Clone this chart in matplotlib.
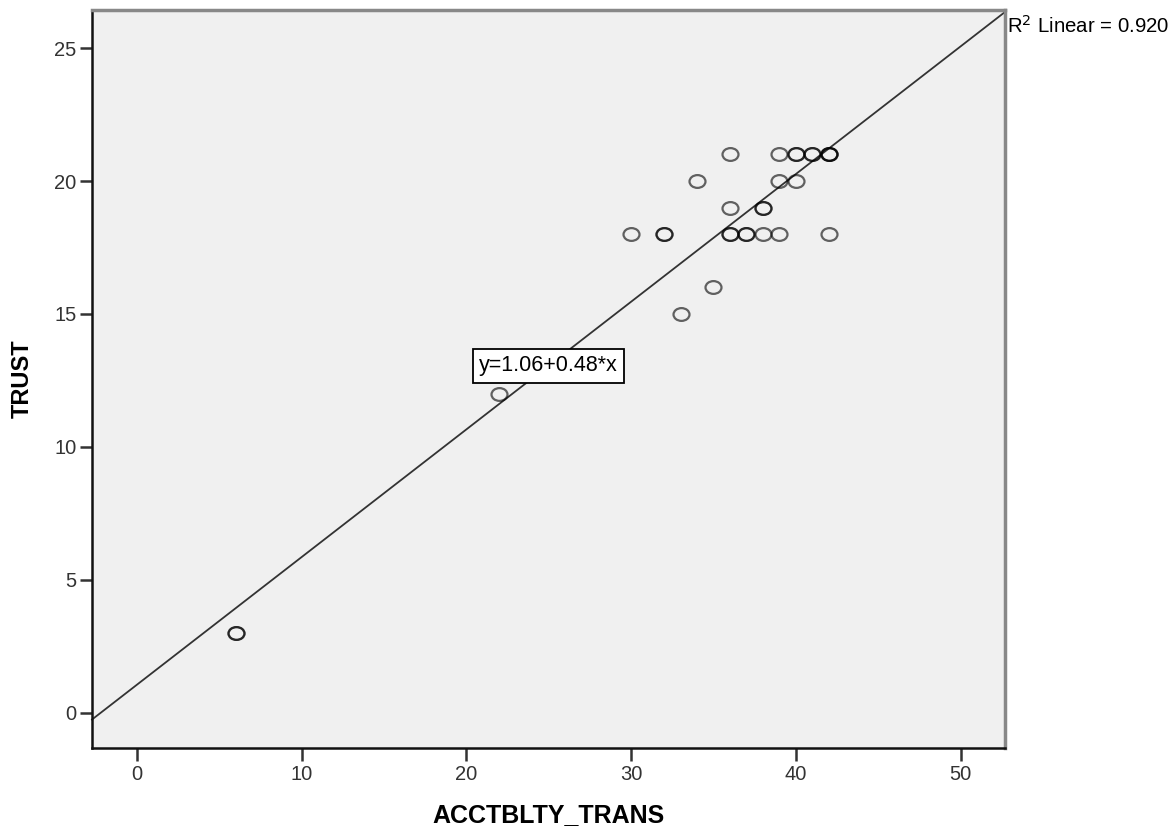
import numpy as np
import matplotlib.pyplot as plt
from matplotlib.path import Path

plt.rcParams['font.family'] = ['Liberation Sans', 'DejaVu Sans']

acct = [6, 6, 22, 30, 32, 32, 33, 34, 35, 36, 36, 36, 36, 37, 37, 38, 38, 38, 39, 39, 39,
        40, 40, 40, 41, 41, 42, 42, 42, 42]
trust = [3, 3, 12, 18, 18, 18, 15, 20, 16, 21, 19, 18, 18, 18, 18, 18, 19, 19, 21, 20, 18,
         21, 20, 21, 21, 21, 21, 21, 21, 18]
intercept = 1.06
slope = 0.48
r2 = 0.920

# slightly flattened circle, like the SPSS marker
circ = Path.unit_circle()
ellipse = Path(circ.vertices * np.array([1.25, 1.0]), circ.codes)

fig = plt.figure(figsize=(11.75, 8.36), dpi=100)
ax = fig.add_axes([0.0783, 0.1053, 0.777, 0.8827])
ax.set_facecolor('#f0f0f0')

ax.plot(acct, trust, linestyle='none', marker=ellipse, markersize=11.5,
        markerfacecolor='none', markeredgecolor=(0, 0, 0, 0.6), markeredgewidth=1.6,
        zorder=3)

xmin, xmax = -2.73, 52.7
xl = np.array([xmin, xmax])
ax.plot(xl, intercept + slope * xl, color='#333333', lw=1.3, zorder=2, clip_on=False)

ax.set_xlim(xmin, xmax)
ax.set_ylim(-1.32, 26.43)
ax.set_xticks([0, 10, 20, 30, 40, 50])
ax.set_yticks([0, 5, 10, 15, 20, 25])
ax.tick_params(direction='out', length=9, width=1.8, labelsize=14.5, pad=2,
               colors='#333333')
ax.tick_params(axis='x', pad=3)

for s in ['left', 'bottom']:
    ax.spines[s].set_color('#111111')
    ax.spines[s].set_linewidth(1.8)
for s in ['top', 'right']:
    ax.spines[s].set_color('#888888')
    ax.spines[s].set_linewidth(2.5)

ax.set_xlabel('ACCTBLTY_TRANS', fontsize=18, fontweight='bold', labelpad=14)
ax.set_ylabel('TRUST', fontsize=17, fontweight='bold', labelpad=15)

ax.text(24.98, 13.06, 'y=1.06+0.48*x', fontsize=15.5, ha='center', va='center',
        bbox=dict(boxstyle='square,pad=0.3', fc='white', ec='black', lw=1.3), zorder=4)

fig.text(0.857, 1 - 33 / 836, 'R$^2$ Linear = %.3f' % r2, fontsize=14.7,
         ha='left', va='baseline')

fig.savefig('out.png')
